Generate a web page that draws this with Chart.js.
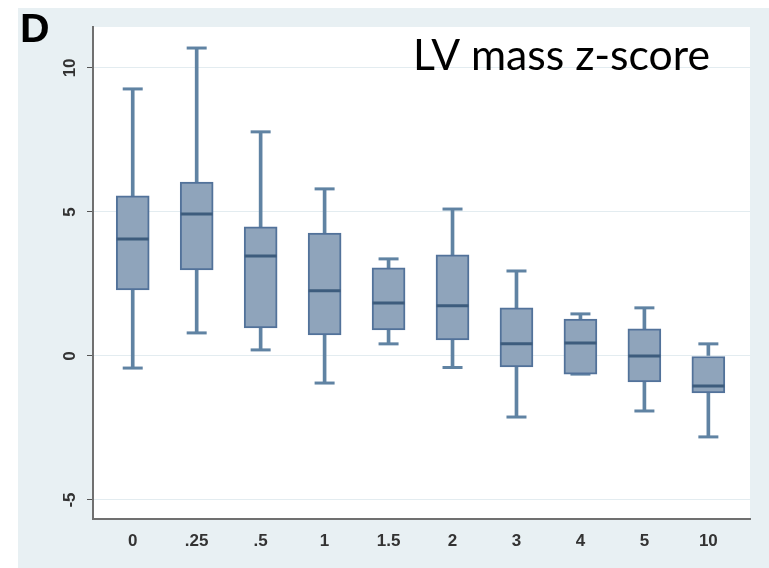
<!DOCTYPE html>
<html>
<head>
<meta charset="utf-8">
<script src="https://cdn.jsdelivr.net/npm/chart.js@4"></script>
<style>
  html,body{margin:0;padding:0;background:#fff;}
  #wrap{width:769px;height:568px;}
</style>
</head>
<body>
<div id="wrap"><canvas id="c" width="769" height="568"></canvas></div>
<script>
// dose groups on the x axis
const xLabels = ['0','.25','.5','1','1.5','2','3','4','5','10'];
// box plot stats
const whiskerHi = [9.27, 10.69, 7.78, 5.80, 3.37, 5.10, 2.95, 1.46, 1.67, 0.42];
const q3        = [5.56, 6.04, 4.48, 4.27, 3.06, 3.51, 1.67, 1.28, 0.94, 0.00];
const median    = [4.06, 4.93, 3.47, 2.26, 1.84, 1.74, 0.42, 0.45, 0.00, -1.04];
const q1        = [2.29, 2.99, 0.97, 0.73, 0.90, 0.56, -0.38, -0.63, -0.90, -1.28];
const whiskerLo = [-0.42, 0.80, 0.21, -0.94, 0.42, -0.40, -2.12, -0.63, -1.91, -2.81];
const yTicks = [-5, 0, 5, 10];

const BOX_FILL = '#8fa4bb', BOX_LINE = '#52729a', MED = '#3d5c7d', WHISK = '#6083a3';
const TICK_FONT = '"Liberation Sans", Arial, sans-serif';
const idx = xLabels.map((_,i)=>i);

// panel background + labels that Chart.js can't place the Stata way
const stataLook = {
  id:'stataLook',
  beforeDraw(chart){
    const {ctx, chartArea:a} = chart;
    ctx.save();
    ctx.fillStyle = '#fff'; ctx.fillRect(0,0,chart.width,chart.height);
    ctx.fillStyle = '#e8f0f3'; ctx.fillRect(18,8,chart.width-18,chart.height-8);
    ctx.fillStyle = '#fff'; ctx.fillRect(a.left,a.top,a.right-a.left,a.bottom-a.top);
    ctx.restore();
  },
  afterDraw(chart){
    const {ctx} = chart;
    const y = chart.scales.y;
    ctx.save();
    // rotated y tick labels
    ctx.fillStyle = '#333';
    ctx.font = 'bold 17px ' + TICK_FONT;
    ctx.textAlign = 'center'; ctx.textBaseline = 'middle';
    yTicks.forEach(v=>{
      ctx.save();
      ctx.translate(70, y.getPixelForValue(v));
      ctx.rotate(-Math.PI/2);
      ctx.fillText(String(v), 0, 0);
      ctx.restore();
    });
    // panel letter
    ctx.fillStyle = '#000';
    ctx.textAlign = 'left'; ctx.textBaseline = 'alphabetic';
    ctx.font = 'bold 41px ' + TICK_FONT;
    ctx.fillText('D', 20, 42);
    // title, squeezed to the width it has in the picture
    const t = 'LV mass z-score';
    ctx.font = '42px Lato, "Open Sans", sans-serif';
    const w = ctx.measureText(t).width;
    const fs = 42 * 297 / w;
    ctx.font = fs.toFixed(1) + 'px Lato, "Open Sans", sans-serif';
    ctx.fillText(t, 413, 70);
    ctx.restore();
  }
};

const pts = (arr)=> idx.map(i=>({x:i, y:arr[i]}));
const rng = (a,b)=> idx.map(i=>({x:i, y:[a[i], b[i]]}));

new Chart(document.getElementById('c'), {
  type:'bar',
  data:{
    datasets:[
      {label:'median', type:'line', data:pts(median), showLine:false, pointStyle:'line',
       pointRadius:16, pointBorderWidth:3, borderColor:MED, order:0},
      {label:'box', data:rng(q1,q3), backgroundColor:BOX_FILL, borderColor:BOX_LINE,
       borderWidth:2, borderSkipped:false, barThickness:33, grouped:false, order:1},
      {label:'upper whisker', data:rng(q3,whiskerHi), backgroundColor:WHISK,
       barThickness:3, grouped:false, order:2},
      {label:'lower whisker', data:rng(whiskerLo,q1), backgroundColor:WHISK,
       barThickness:3, grouped:false, order:2},
      {label:'upper cap', type:'line', data:pts(whiskerHi), showLine:false, pointStyle:'line',
       pointRadius:10, pointBorderWidth:3, borderColor:WHISK, order:2},
      {label:'lower cap', type:'line', data:pts(whiskerLo), showLine:false, pointStyle:'line',
       pointRadius:10, pointBorderWidth:3, borderColor:WHISK, order:3}
    ]
  },
  options:{
    responsive:false, animation:false,
    layout:{padding:{left:0, top:27, right:14, bottom:0}},
    plugins:{legend:{display:false}, tooltip:{enabled:false}},
    scales:{
      x:{
        type:'linear', min:-0.621, max:9.651, offset:false,
        grid:{display:false, drawTicks:false},
        border:{color:'#707070', width:2},
        ticks:{padding:12, color:'#333', autoSkip:false, maxRotation:0,
               font:{family:TICK_FONT, size:17, weight:'bold'},
               callback:(v)=> xLabels[v] ?? ''},
        afterBuildTicks:(s)=>{ s.ticks = idx.map(i=>({value:i})); },
        afterFit:(s)=>{ s.height = 49; }
      },
      y:{
        min:-5.66, max:11.42,
        grid:{color:'#e3ecf0', lineWidth:1, tickColor:'#555', tickLength:6},
        border:{color:'#707070', width:2},
        ticks:{display:false},
        afterBuildTicks:(s)=>{ s.ticks = yTicks.map(v=>({value:v})); },
        afterFit:(s)=>{ s.width = 93; }
      }
    }
  },
  plugins:[stataLook]
});
</script>
</body>
</html>
